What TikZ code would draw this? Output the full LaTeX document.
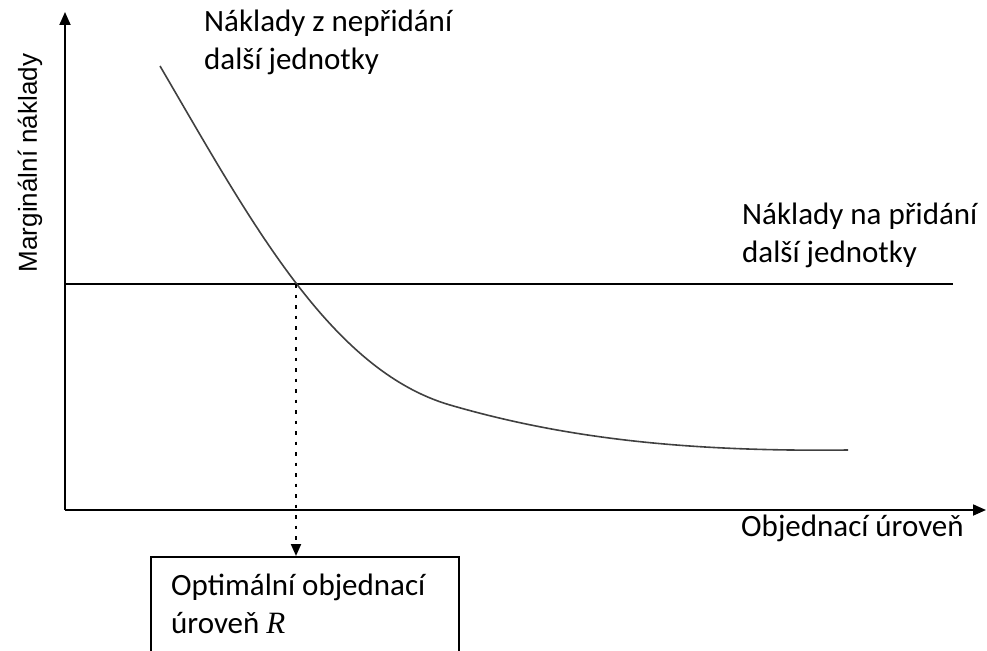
\documentclass[tikz,border=0pt]{standalone}
\usepackage{fontspec}
\setmainfont{Carlito}
\newfontfamily\axisfont{Liberation Sans}
\newfontfamily\varfont{Liberation Serif}
\usetikzlibrary{arrows.meta}
\begin{document}
\begin{tikzpicture}[x=1pt,y=-1pt,
  axis/.style={line width=1.8pt,-{Triangle[length=13pt,width=11pt]}},
  lbl/.style={anchor=base west,inner sep=0pt,font=\fontsize{31}{38}\selectfont,align=left},
  curve/.style={line width=1.6pt,draw=black!75},
  guide/.style={line width=2pt,dash pattern=on 3.5pt off 7pt,-{Triangle[length=12pt,width=10pt]}},
  resultbox/.style={draw,line width=1.8pt,minimum width=308pt,minimum height=120pt,anchor=north west,inner sep=0pt}]
\useasboundingbox (0,0) rectangle (987,650);

% axes
\coordinate (origin) at (65,510);
\coordinate (ytop) at (65,12);
\coordinate (xend) at (986,510);
\draw[axis] (origin) -- (ytop);
\draw[axis] (origin) -- (xend);

% cost of adding one more unit
\coordinate (hstart) at (65,284);
\coordinate (hend) at (953,284);
\draw[line width=1.9pt] (hstart) -- (hend);

% cost of not adding one more unit
\draw[curve] (160,66) .. controls (250,220) and (330,370) .. (450,405)
  .. controls (560,437) and (680,452) .. (848,450);

% optimum
\coordinate (cross) at (296,284);
\node[resultbox] (opt) at (150,556) {};
\draw[guide] (cross) -- (opt.north -| cross);

% labels (anchored at the baseline of their last line)
\node[lbl] (topl) at (204,70) {Náklady z nepřidání\\další jednotky};
\node[lbl] (rightl) at (742,262) {Náklady na přidání\\další jednotky};
\node[lbl] (xl) at (741,536) {Objednací úroveň};
\node[lbl] (optl) at (171,633) {Optimální objednací\\úroveň {\varfont\itshape R}};
\node[rotate=90,inner sep=0pt,font=\axisfont\fontsize{26}{30}\selectfont] (yl) at (30,163) {Marginální náklady};
\end{tikzpicture}
\end{document}
